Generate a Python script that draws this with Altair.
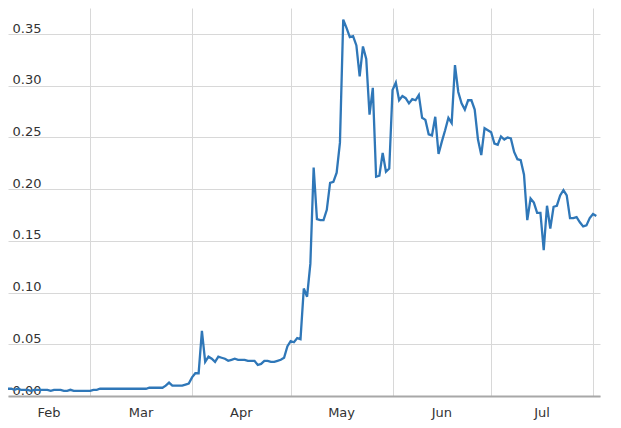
import altair as alt
import pandas as pd

# Daily values (Feb 4 .. Aug 2, 2021)
feb = [0.007, 0.007, 0.006, 0.007, 0.006, 0.006, 0.006, 0.005, 0.006, 0.006,
       0.006, 0.006, 0.006, 0.005, 0.006, 0.006, 0.006, 0.005, 0.005, 0.006,
       0.005, 0.005, 0.005, 0.005, 0.005]
mar = [0.005, 0.006, 0.006, 0.007, 0.007, 0.007, 0.007, 0.007, 0.007, 0.007,
       0.007, 0.007, 0.007, 0.007, 0.007, 0.007, 0.007, 0.007, 0.008, 0.008,
       0.008, 0.008, 0.008, 0.010, 0.013, 0.010, 0.010, 0.010, 0.010, 0.011,
       0.012]
apr = [0.018, 0.022, 0.022, 0.063, 0.033, 0.038, 0.036, 0.033, 0.038, 0.037,
       0.036, 0.034, 0.035, 0.036, 0.035, 0.035, 0.035, 0.034, 0.034, 0.034,
       0.030, 0.031, 0.034, 0.034, 0.033, 0.033, 0.034, 0.035, 0.037, 0.048]
may = [0.053, 0.052, 0.056, 0.055, 0.104, 0.096, 0.128, 0.221, 0.171, 0.170,
       0.170, 0.180, 0.206, 0.207, 0.216, 0.245, 0.364, 0.356, 0.347, 0.348,
       0.339, 0.309, 0.338, 0.326, 0.272, 0.298, 0.212, 0.213, 0.235, 0.217,
       0.220]
jun = [0.296, 0.303, 0.286, 0.290, 0.288, 0.283, 0.287, 0.286, 0.291, 0.269,
       0.267, 0.253, 0.252, 0.270, 0.234, 0.246, 0.257, 0.269, 0.264, 0.320,
       0.294, 0.283, 0.277, 0.286, 0.286, 0.277, 0.248, 0.233, 0.259, 0.257]
jul = [0.255, 0.244, 0.243, 0.251, 0.248, 0.250, 0.249, 0.236, 0.229, 0.228,
       0.214, 0.170, 0.191, 0.187, 0.177, 0.177, 0.141, 0.184, 0.162, 0.183,
       0.184, 0.194, 0.199, 0.194, 0.172, 0.172, 0.173, 0.168, 0.164, 0.165,
       0.172]
aug = [0.176, 0.174]

values = feb + mar + apr + may + jun + jul + aug
dates = pd.date_range("2021-02-04", periods=len(values), freq="D").strftime("%Y-%m-%dT%H:%M:%S")
df = pd.DataFrame({"date": list(dates), "price": values})

month_labels = ["Feb", "Mar", "Apr", "May", "Jun", "Jul"]
label_dates = ["2021-02-16T12:00:00", "2021-03-16T12:00:00", "2021-04-16T00:00:00",
               "2021-05-16T12:00:00", "2021-06-16T00:00:00", "2021-07-16T12:00:00"]
labels_df = pd.DataFrame({"date": label_dates, "label": month_labels})

y_ticks = [0.0, 0.05, 0.10, 0.15, 0.20, 0.25, 0.30, 0.35]
month_starts = [alt.DateTime(year=2021, month=m, date=1) for m in range(3, 9)]

W, H = 592, 388
x_scale = alt.Scale(domain=[alt.DateTime(year=2021, month=2, date=4),
                            alt.DateTime(year=2021, month=8, date=3, hours=3)])

line = alt.Chart(df).mark_line(color="#2f77b8", strokeWidth=2.3).encode(
    x=alt.X("date:T", scale=x_scale,
            axis=alt.Axis(values=month_starts, labels=False, ticks=False, grid=True,
                          gridColor="#d8d8d8", gridWidth=1, domainColor="#a8a8a8",
                          domainWidth=2, title=None)),
    y=alt.Y("price:Q", scale=alt.Scale(domain=[0, 0.3752], nice=False),
            axis=alt.Axis(values=y_ticks, format=".2f", labelAlign="left",
                          labelPadding=-4, labelBaseline="alphabetic", labelOffset=-2,
                          domain=False, ticks=False, gridColor="#d8d8d8", gridWidth=1,
                          labelFont="DejaVu Sans", labelFontSize=13, labelColor="#333333",
                          title=None)),
)

month_text = alt.Chart(labels_df).mark_text(
    font="DejaVu Sans", fontSize=13, color="#333333", baseline="middle", align="center"
).encode(
    x=alt.X("date:T", scale=x_scale),
    y=alt.value(H + 17),
    text="label:N",
)

chart = alt.layer(line, month_text).properties(
    width=W, height=H,
    autosize=alt.AutoSizeParams(type="none"),
    padding={"left": 0, "top": 0, "right": 5, "bottom": 30},
).configure_view(stroke=None)

chart.save("out.html", embed_options={"renderer": "svg", "actions": False})
